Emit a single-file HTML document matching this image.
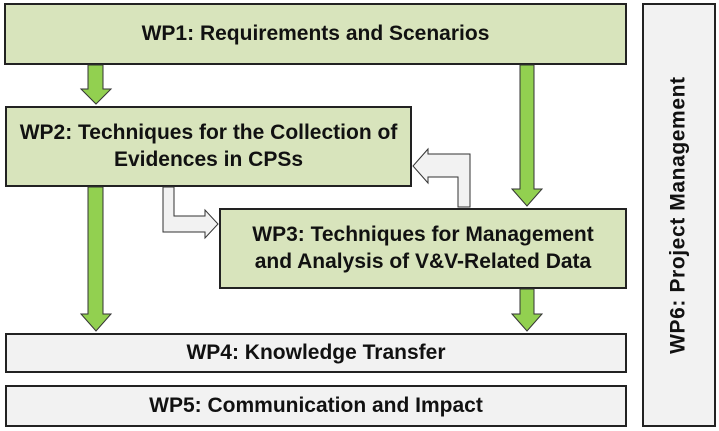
<!DOCTYPE html>
<html><head><style>
body{margin:0;width:719px;height:431px;background:#fff;overflow:hidden;font-family:"Liberation Sans",sans-serif}
.b{position:absolute;box-sizing:border-box;border:2px solid #222;display:flex;align-items:center;justify-content:center;text-align:center;font-weight:bold;font-size:21px;color:#111;line-height:1.25}
.g{background:#d8e4bc}.w{background:#f2f2f2}
svg{position:absolute;left:0;top:0}
</style></head><body>
<div class="b g" style="left:4px;top:3px;width:623px;height:62px">WP1: Requirements and Scenarios</div>
<div class="b g" style="left:5px;top:106px;width:407px;height:81px">WP2: Techniques for the Collection of<br>Evidences in CPSs</div>
<div class="b g" style="left:219px;top:208px;width:408px;height:81px">WP3: Techniques for Management<br>and Analysis of V&amp;V-Related Data</div>
<div class="b w" style="left:5px;top:333px;width:622px;height:40px">WP4: Knowledge Transfer</div>
<div class="b w" style="left:5px;top:385px;width:622px;height:42px">WP5: Communication and Impact</div>
<div class="b w" style="left:642px;top:3px;width:74px;height:424px"><span style="transform:rotate(-90deg);white-space:nowrap;display:inline-block;letter-spacing:0.6px">WP6: Project Management</span></div>
<svg width="719" height="431">
<g fill="#92d050" stroke="#333" stroke-width="1">
<polygon points="88,65 103,65 103,89 111,89 96,104 81,89 88,89"/>
<polygon points="520,65 534,65 534,189 542,189 527,206 512,189 520,189"/>
<polygon points="88,187 103,187 103,314 111,314 96,331 81,314 88,314"/>
<polygon points="520,289 534,289 534,314 542,314 527,331 512,314 520,314"/>
</g>
<g fill="#f2f2f2" stroke="#333" stroke-width="1">
<polygon points="163,187 174,187 174,216 205,216 205,210 218,224 205,238 205,232 163,232"/>
<polygon points="458,207 470,207 470,154 428,154 428,149 413,166 428,183 428,177 458,177"/>
</g>
</svg>
</body></html>
